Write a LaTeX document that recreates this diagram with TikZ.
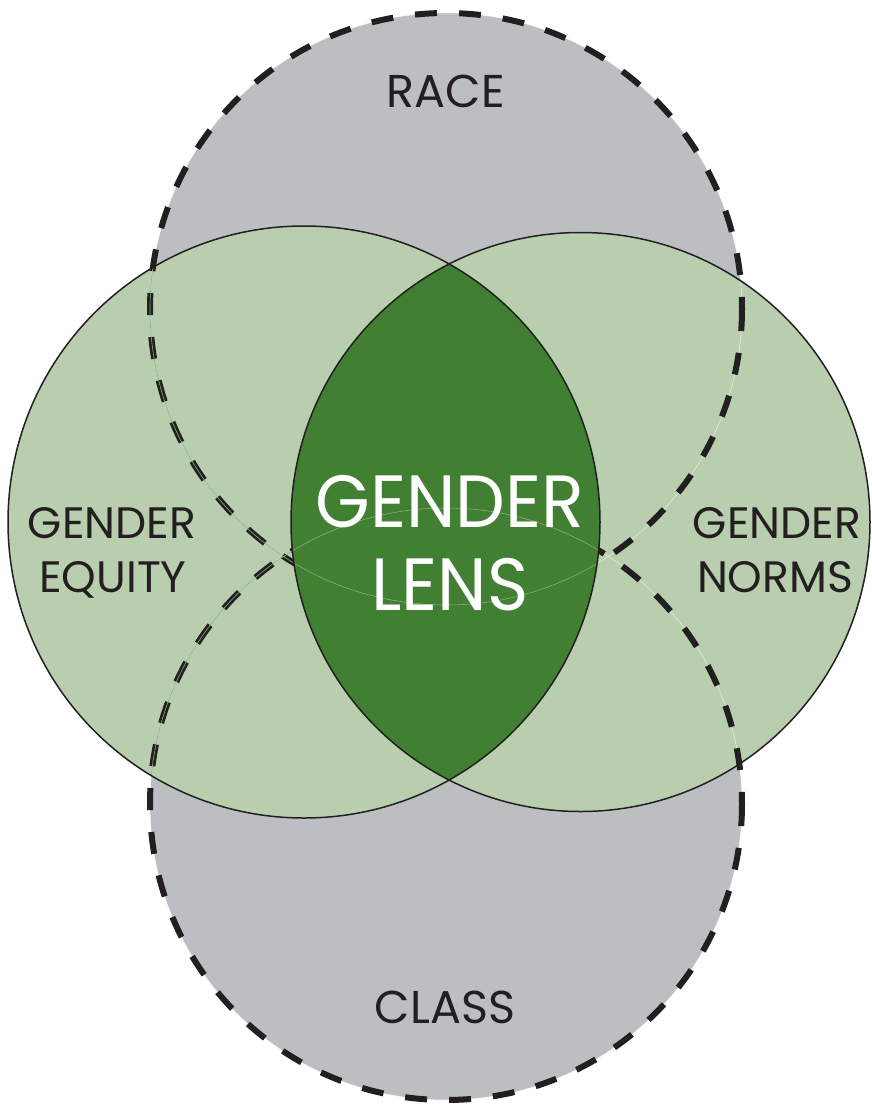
\documentclass[tikz,border=0pt]{standalone}
\usepackage{fontspec}
\setmainfont{Poppins}
\definecolor{grayc}{HTML}{BDBEC2}
\definecolor{lightg}{HTML}{B8CEAF}
\definecolor{darkg}{HTML}{417F32}
\definecolor{ink}{HTML}{231F20}
\tikzset{
  dashring/.style={draw=ink, line width=6pt, dash pattern=on 22pt off 22pt},
  greenring/.style={draw=ink, line width=1.5pt},
  lbl/.style={text=ink, inner sep=0pt, anchor=base, font=\fontsize{44}{44}\selectfont},
  biglbl/.style={text=white, inner sep=0pt, anchor=base, xscale=0.95, font=\fontsize{74}{74}\selectfont},
}
\begin{document}
\begin{tikzpicture}[x=1pt,y=-1pt]
\useasboundingbox (0,0) rectangle (872,1104);
\coordinate (race) at (446,309);
\coordinate (class) at (446,804);
\coordinate (eq) at (304,522);
\coordinate (no) at (580.5,522);
% gray circles
\fill[grayc] (race) circle[radius=296];
\fill[grayc] (class) circle[radius=296];
% green circles
\fill[lightg] (eq) circle[radius=296];
\fill[lightg] (no) circle[radius=289.5];
% thin light line under dashes
\draw[white, opacity=0.6, line width=0.6pt] (race) circle[radius=296] (class) circle[radius=296];
% dashed outlines
\draw[dashring] (race) circle[radius=296];
\draw[dashring] (class) circle[radius=296];
% lens
\begin{scope}
\clip (eq) circle[radius=296];
\fill[darkg] (no) circle[radius=289.5];
\draw[color=lightg!60!darkg, line width=0.6pt] (race) circle[radius=296] (class) circle[radius=296];
\end{scope}
% green outlines
\draw[greenring] (eq) circle[radius=296];
\draw[greenring] (no) circle[radius=289.5];
% labels
\node[lbl, font=\fontsize{46}{46}\selectfont] (tRace) at (446,107) {RACE};
\node[lbl, font=\fontsize{46}{46}\selectfont] (tClass) at (445,1023) {CLASS};
\node[lbl] (tEq1) at (112,538) {GENDER};
\node[lbl] (tEq2) at (113,592) {EQUITY};
\node[lbl] (tNo1) at (777,538) {GENDER};
\node[lbl] (tNo2) at (775,592) {NORMS};
\node[biglbl] (tLens1) at (450,527) {GENDER};
\node[biglbl] (tLens2) at (450,610) {LENS};
\end{tikzpicture}
\end{document}
